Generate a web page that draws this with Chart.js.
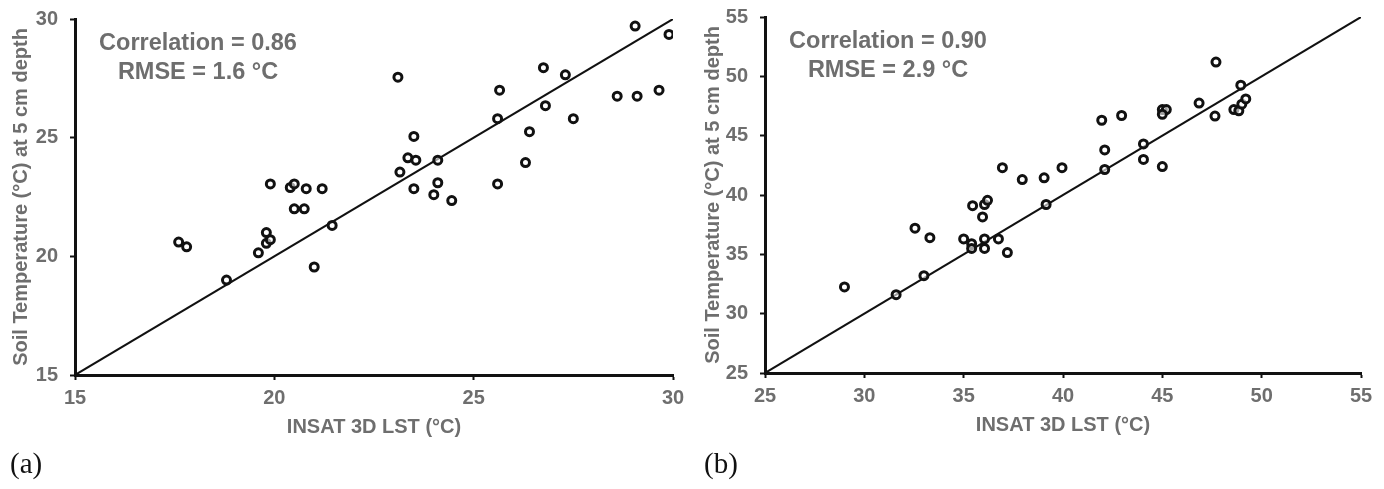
<!DOCTYPE html>
<html>
<head>
<meta charset="utf-8">
<script src="https://cdn.jsdelivr.net/npm/chart.js@4.4.1/dist/chart.umd.min.js"></script>
<style>
  body { margin: 0; background: #fff; width: 1384px; height: 489px; overflow: hidden; position: relative; }
  .panel { position: absolute; top: 0; width: 692px; height: 489px; }
  .tag { position: absolute; top: 447px; font-family: "Liberation Serif", "Times New Roman", serif; font-size: 29px; color: #111; }
</style>
</head>
<body>
<div class="panel" style="left:0"><canvas id="chartA" width="692" height="489"></canvas></div>
<div class="panel" style="left:692px"><canvas id="chartB" width="692" height="489"></canvas></div>
<div class="tag" style="left:10px">(a)</div>
<div class="tag" style="left:704px">(b)</div>
<script>
// panel (a)
const insatA = [17.6, 17.8, 18.8, 19.6, 19.8, 19.8, 19.9, 19.9, 20.4, 20.5, 20.8, 21.2, 20.5, 20.75,
  21.45, 21.0, 23.1, 23.15, 23.35, 23.5, 23.55, 23.5, 24.1, 24.1, 24.0, 24.45, 25.65, 25.6, 25.6,
  26.75, 26.8, 27.3, 26.4, 26.3, 27.5, 28.6, 29.1, 29.65, 29.05, 29.9];
const soilA = [20.6, 20.4, 19.0, 20.15, 21.0, 20.55, 20.7, 23.05, 22.9, 23.05, 22.85, 22.85, 22.0, 22.0,
  21.3, 19.55, 27.55, 23.55, 24.15, 25.05, 24.05, 22.85, 24.05, 23.1, 22.6, 22.35, 27.0, 25.8, 23.05,
  27.95, 26.35, 27.65, 25.25, 23.95, 25.8, 26.75, 26.75, 27.0, 29.7, 29.35];
const rangeA = [15, 30];
const statsA = ['Correlation = 0.86', 'RMSE = 1.6 °C'];

// panel (b)
const insatB = [29.0, 31.6, 32.55, 33.0, 33.3, 35.0, 35.4, 35.4, 35.45, 35.95, 36.05, 36.2, 36.05, 36.05,
  36.75, 37.2, 36.95, 37.95, 39.05, 39.95, 39.15, 41.95, 42.1, 42.1, 42.95, 44.05, 44.05, 45.0, 45.0,
  45.2, 45.0, 46.85, 47.7, 47.65, 48.95, 48.6, 48.85, 49.0, 49.2];
const soilB = [32.25, 31.6, 37.2, 33.2, 36.4, 36.3, 35.9, 35.5, 39.1, 38.15, 39.2, 39.55, 36.3, 35.5,
  36.3, 35.15, 42.3, 41.3, 41.45, 42.3, 39.2, 46.3, 43.8, 42.15, 46.7, 44.3, 43.0, 42.4, 47.2,
  47.2, 46.8, 47.75, 51.2, 46.65, 49.25, 47.2, 47.1, 47.65, 48.1];
const rangeB = [25, 55];
const statsB = ['Correlation = 0.90', 'RMSE = 2.9 °C'];

const xTitle = 'INSAT 3D LST (°C)';
const yTitle = 'Soil Temperature (°C) at 5 cm depth';
const grey = '#6e6e6e';
const fontFam = '"Liberation Sans", Arial, sans-serif';

const statsText = {
  id: 'statsText',
  afterDatasetsDraw(chart, args, opts) {
    const { ctx, chartArea } = chart;
    ctx.save();
    ctx.fillStyle = grey;
    ctx.font = 'bold 23.5px ' + fontFam;
    ctx.textAlign = 'center';
    ctx.textBaseline = 'middle';
    ctx.fillText(opts.lines[0], chartArea.left + 123, chartArea.top + 25);
    ctx.fillText(opts.lines[1], chartArea.left + 123, chartArea.top + 54);
    ctx.restore();
  }
};

function makeChart(id, xs, ys, range, stats, pad) {
  const points = xs.map((x, i) => ({ x: x, y: ys[i] }));
  const oneToOne = range.map(v => ({ x: v, y: v }));
  new Chart(document.getElementById(id), {
    type: 'scatter',
    data: {
      datasets: [
        {
          data: points,
          pointRadius: 4,
          pointBorderWidth: 3,
          pointBorderColor: '#111',
          pointBackgroundColor: 'rgba(255,255,255,0.6)',
        },
        {
          type: 'line',
          data: oneToOne,
          borderColor: '#111',
          borderWidth: 2,
          pointRadius: 0,
          fill: false,
        }
      ]
    },
    options: {
      responsive: false,
      animation: false,
      events: [],
      layout: { padding: pad },
      plugins: {
        legend: { display: false },
        tooltip: { enabled: false },
        statsText: { lines: stats },
      },
      scales: {
        x: {
          type: 'linear', min: range[0], max: range[1],
          ticks: { stepSize: 5, color: grey, font: { family: fontFam, size: 20, weight: 'bold' }, padding: 6, maxRotation: 0 },
          grid: { drawOnChartArea: false, color: '#111', tickLength: 5, tickWidth: 2 },
          border: { color: '#111', width: 3 },
          title: { display: true, text: xTitle, color: grey, font: { family: fontFam, size: 20, weight: 'bold' }, padding: 0 },
          afterFit: s => { s.height = 64; },
        },
        y: {
          type: 'linear', min: range[0], max: range[1],
          ticks: { stepSize: 5, color: grey, font: { family: fontFam, size: 20, weight: 'bold' }, padding: 12 },
          grid: { drawOnChartArea: false, color: '#111', tickLength: 5, tickWidth: 2 },
          border: { color: '#111', width: 3 },
          title: { display: true, text: yTitle, color: grey, font: { family: fontFam, size: 20, weight: 'bold' }, padding: { top: 9, bottom: 0 } },
          afterFit: s => { s.width = pad.yw; s.paddingTop = 0; s.paddingBottom = 0; },
        }
      }
    },
    plugins: [statsText]
  });
}

makeChart('chartA', insatA, soilA, rangeA, statsA, { left: 0, right: 19, top: 19, bottom: 50, yw: 75 });
makeChart('chartB', insatB, soilB, rangeB, statsB, { left: 0, right: 23, top: 17, bottom: 52, yw: 73 });
</script>
</body>
</html>
